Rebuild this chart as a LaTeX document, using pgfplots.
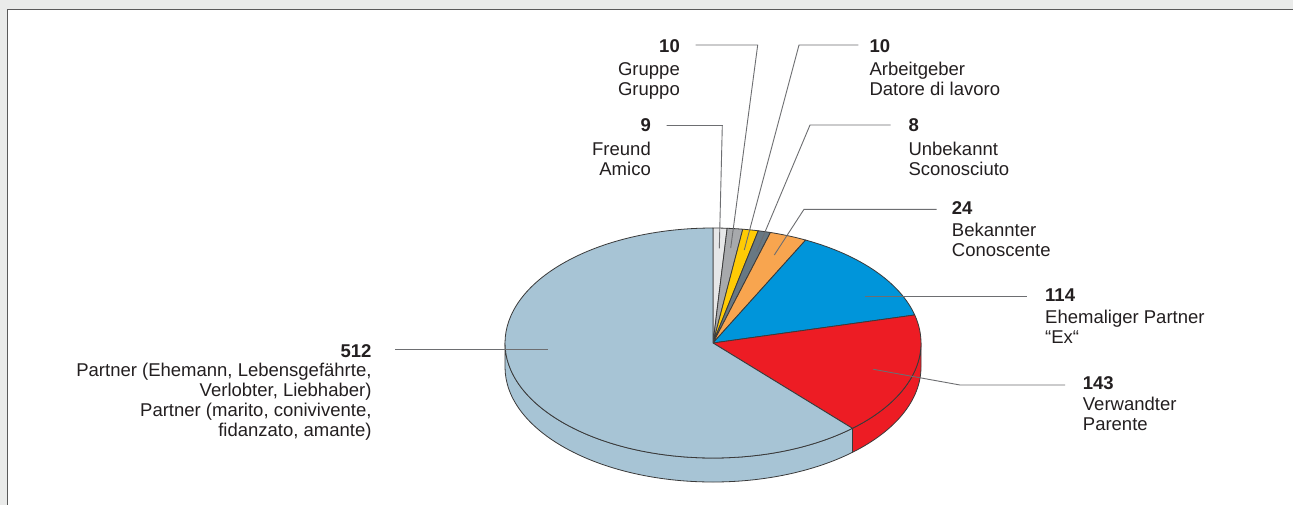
\documentclass[border=0pt]{standalone}
\usepackage{fontspec}
\setmainfont{Liberation Sans}
\usepackage{pgfplots}
\usepackage{pgfplotstable}
\pgfplotsset{compat=1.18}

\definecolor{pfreund}{HTML}{E6E7E8}
\definecolor{pgruppe}{HTML}{A7A9AC}
\definecolor{parbeit}{HTML}{FFCB05}
\definecolor{punbek}{HTML}{687883}
\definecolor{pbekannt}{HTML}{F8A54F}
\definecolor{pex}{HTML}{0095DA}
\definecolor{pverw}{HTML}{ED1C24}
\definecolor{ppartner}{HTML}{A7C4D5}
\definecolor{edge}{HTML}{3A3A3A}
\definecolor{leader}{HTML}{6D6E71}
\definecolor{bgcol}{HTML}{EAEBEA}
\definecolor{framecol}{HTML}{5A5A5A}
\definecolor{txt}{HTML}{231F20}

\newcommand\lbl{\fontsize{18.5}{20}\selectfont}

% clockwise from 12 o'clock
\pgfplotstableread{
name value color
Freund 9 pfreund
Gruppe 10 pgruppe
Arbeitgeber 10 parbeit
Unbekannt 8 punbek
Bekannter 24 pbekannt
Ex 114 pex
Verwandter 143 pverw
Partner 512 ppartner
}\pietable

\begin{document}
\begin{tikzpicture}
% total and wedge angles
\def\pietotal{0}
\foreach \i in {0,...,7}{
  \pgfplotstablegetelem{\i}{value}\of\pietable
  \pgfmathsetmacro\t{\pietotal+\pgfplotsretval}
  \xdef\pietotal{\t}
}
\def\pieangle{90}
\foreach \i in {0,...,7}{
  \pgfplotstablegetelem{\i}{value}\of\pietable
  \pgfmathsetmacro\e{\pieangle-(\pgfplotsretval/\pietotal)*360}
  \pgfmathsetmacro\lo{max(\e,-180)}
  \pgfmathsetmacro\hi{min(\pieangle,0)}
  \pgfmathtruncatemacro\hasside{\lo<\hi}
  \expandafter\xdef\csname pieS\i\endcsname{\pieangle}
  \expandafter\xdef\csname pieE\i\endcsname{\e}
  \expandafter\xdef\csname pieL\i\endcsname{\lo}
  \expandafter\xdef\csname pieH\i\endcsname{\hi}
  \expandafter\xdef\csname pieF\i\endcsname{\hasside}
  \pgfplotstablegetelem{\i}{color}\of\pietable
  \expandafter\xdef\csname pieC\i\endcsname{\pgfplotsretval}
  \xdef\pieangle{\e}
}
\begin{axis}[
    x=1pt, y=1pt,
    xmin=0, xmax=1293, ymin=0, ymax=504,
    y dir=reverse,
    hide axis,
    clip=false,
]
% frame
\fill[bgcol] (axis cs:-5,-5) rectangle (axis cs:1300,510);
\fill[white] (axis cs:8,9.5) rectangle (axis cs:1300,510);
\draw[framecol, line width=1.4pt] (axis cs:7.6,510) -- (axis cs:7.6,9.2) -- (axis cs:1300,9.2);

% pie side
\pgfplotsinvokeforeach{0,...,7}{
  \ifnum\csname pieF#1\endcsname=1
  \filldraw[fill=\csname pieC#1\endcsname, draw=edge, line width=0.8pt, line join=round]
    (axis cs:713,343) ++(\csname pieH#1\endcsname:208pt and 115pt)
    arc[start angle=\csname pieH#1\endcsname, end angle=\csname pieL#1\endcsname, x radius=208pt, y radius=115pt]
    -- ++(0,-24pt)
    arc[start angle=\csname pieL#1\endcsname, end angle=\csname pieH#1\endcsname, x radius=208pt, y radius=115pt]
    -- cycle;
  \fi
}
% pie top
\pgfplotsinvokeforeach{0,...,7}{
  \filldraw[fill=\csname pieC#1\endcsname, draw=edge, line width=0.8pt, line join=round]
    (axis cs:713,343) -- ++(\csname pieS#1\endcsname:208pt and 115pt)
    arc[start angle=\csname pieS#1\endcsname, end angle=\csname pieE#1\endcsname, x radius=208pt, y radius=115pt]
    -- cycle;
}

% leader lines
\begin{scope}[leader, line width=0.9pt]
\draw (axis cs:695.7,45) -- (axis cs:757.7,45) -- (axis cs:730.7,248);
\draw (axis cs:858.3,45) -- (axis cs:799,45) -- (axis cs:744.3,250);
\draw (axis cs:666.7,125.5) -- (axis cs:722.3,125.5) -- (axis cs:719.3,248.3);
\draw (axis cs:890.7,125) -- (axis cs:810,125) -- (axis cs:756.7,251.7);
\draw (axis cs:936.7,209.3) -- (axis cs:804,209.3) -- (axis cs:774.3,255);
\draw (axis cs:865,296) -- (axis cs:1026.7,296);
\draw (axis cs:873.3,369.3) -- (axis cs:960,385) -- (axis cs:1065,385);
\draw (axis cs:395,349.5) -- (axis cs:548.3,349.5);
\end{scope}

% labels
\begin{scope}[every node/.style={inner sep=0pt, font=\lbl, text=txt}]
\node[anchor=base east] at (axis cs:680,52) {\textbf{10}};
\node[anchor=base east] at (axis cs:680,75.7) {Gruppe};
\node[anchor=base east] at (axis cs:680,95.7) {Gruppo};

\node[anchor=base west] at (axis cs:869.3,52) {\textbf{10}};
\node[anchor=base west] at (axis cs:869.3,75.7) {Arbeitgeber};
\node[anchor=base west] at (axis cs:869.3,95.7) {Datore di lavoro};

\node[anchor=base east] at (axis cs:651,131.7) {\textbf{9}};
\node[anchor=base east] at (axis cs:651,155) {Freund};
\node[anchor=base east] at (axis cs:651,175) {Amico};

\node[anchor=base west] at (axis cs:908.3,131.7) {\textbf{8}};
\node[anchor=base west] at (axis cs:908.3,155) {Unbekannt};
\node[anchor=base west] at (axis cs:908.3,175) {Sconosciuto};

\node[anchor=base west] at (axis cs:951.7,214) {\textbf{24}};
\node[anchor=base west] at (axis cs:951.7,236) {Bekannter};
\node[anchor=base west] at (axis cs:951.7,256.7) {Conoscente};

\node[anchor=base west] at (axis cs:1045,301) {\textbf{114}};
\node[anchor=base west] at (axis cs:1045,323.3) {Ehemaliger Partner};
\node[anchor=base west] at (axis cs:1045,343.3) {“Ex“};

\node[anchor=base west] at (axis cs:1082.7,389) {\textbf{143}};
\node[anchor=base west] at (axis cs:1082.7,410.7) {Verwandter};
\node[anchor=base west] at (axis cs:1082.7,430.7) {Parente};

\node[anchor=base east] at (axis cs:371.7,357.3) {\textbf{512}};
\node[anchor=base east] at (axis cs:371.7,376.7) {Partner (Ehemann, Lebensgefährte,};
\node[anchor=base east] at (axis cs:371.7,396) {Verlobter, Liebhaber)};
\node[anchor=base east] at (axis cs:371.7,416.7) {Partner (marito, conivivente,};
\node[anchor=base east] at (axis cs:371.7,436) {fidanzato, amante)};
\end{scope}
\end{axis}
\pgfresetboundingbox
\path[use as bounding box] (0,0) rectangle (1293pt,504pt);
\end{tikzpicture}
\end{document}
